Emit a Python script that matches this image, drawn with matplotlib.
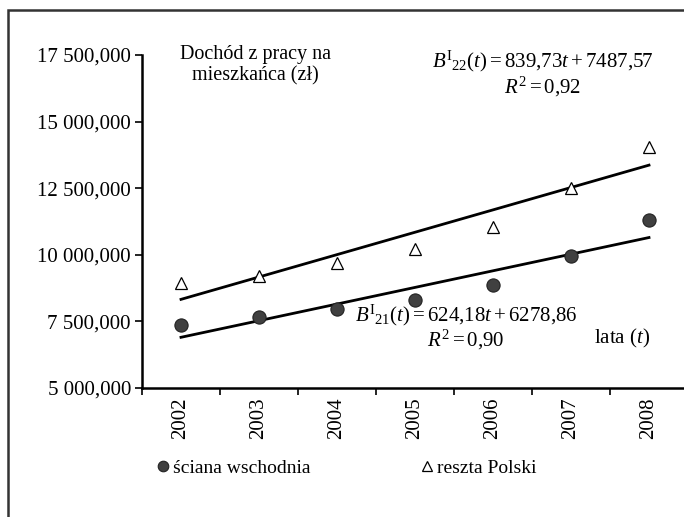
import matplotlib
matplotlib.use("Agg")
import matplotlib.pyplot as plt
import numpy as np
from matplotlib.patches import Rectangle

plt.rcParams['font.family'] = ['Liberation Serif', 'DejaVu Serif']
plt.rcParams['mathtext.fontset'] = 'custom'
plt.rcParams['mathtext.rm'] = 'Liberation Serif'
plt.rcParams['mathtext.it'] = 'Liberation Serif:italic'

# data
years = ['2002', '2003', '2004', '2005', '2006', '2007', '2008']
sciana = [7350, 7660, 7970, 8310, 8870, 9970, 11290]
reszta = [8960, 9210, 9690, 10210, 11040, 12520, 14060]

# trend equations printed on the chart: y = a*t + b, t = 1..7
trend_sciana = (624.18, 6278.86)
trend_reszta = (839.73, 7487.57)

yticks = [5000, 7500, 10000, 12500, 15000, 17500]
ytick_labels = ['5 000,000', '7 500,000', '10 000,000', '12 500,000', '15 000,000', '17 500,000']

fig = plt.figure(figsize=(6.84, 5.17), dpi=100)
ax = fig.add_axes([142/684, 1-388/517, 546/684, 333/517])

x = np.arange(len(years))
t = x + 1

# trend lines
ax.plot(x, trend_reszta[0]*t + trend_reszta[1], color='black', lw=2, zorder=2)
ax.plot(x, trend_sciana[0]*t + trend_sciana[1], color='black', lw=2, zorder=2)

ax.plot(x, sciana, 'o', ms=9.5, mfc='#404040', mec='#222222', mew=0.8, zorder=3,
        label='ściana wschodnia')
ax.plot(x, reszta, '^', ms=8.5, mfc='white', mec='black', mew=0.9, zorder=3,
        label='reszta Polski')

ax.set_xlim(-0.5, 6.5)
ax.set_ylim(5000, 17500)
ax.set_yticks(yticks)
ax.set_yticklabels(ytick_labels, fontsize=15)
ax.set_xticks(x)
ax.set_xticklabels(years, rotation=90, fontsize=15)
ax.set_xticks(np.arange(-0.5, 7, 1), minor=True)
ax.tick_params(axis='x', which='major', length=0, pad=7)
ax.tick_params(axis='x', which='minor', length=5, width=1.2, direction='out')
ax.tick_params(axis='y', length=5, width=1.2, direction='out', pad=3)

for s in ['top', 'right']:
    ax.spines[s].set_visible(False)
for s in ['left', 'bottom']:
    ax.spines[s].set_linewidth(1.8)
ax.spines['bottom'].set_clip_on(False)

# annotations
fig.text(255/684, 1-65/517, 'Dochód z pracy na\nmieszkańca (zł)', ha='center', va='center',
         fontsize=14.5, linespacing=1.15)
fig.text(543/684, 1-74/517,
         r'$B^{\mathrm{I}}{}_{22}(t) = 839{,}73t + 7487{,}57$' + '\n' + r'$R^{2} = 0{,}92$',
         ha='center', va='center', multialignment='center', fontsize=15, linespacing=1.05)
fig.text(466/684, 1-327/517,
         r'$B^{\mathrm{I}}{}_{21}(t) = 624{,}18t + 6278{,}86$' + '\n' + r'$R^{2} = 0{,}90$',
         ha='center', va='center', multialignment='center', fontsize=15, linespacing=1.0)
fig.text(622/684, 1-338/517, r'lata ($t$)', ha='center', va='center', fontsize=15)

fig.legend(loc='center left', bbox_to_anchor=(134/684, 1-468/517), ncol=2, frameon=False,
           fontsize=14, handletextpad=-0.1, columnspacing=5.4, markerscale=0.8,
           handlelength=1.2)

# outer frame (right/bottom edges lie outside the picture)
fig.patches.append(Rectangle((8/684, -0.1), 1.2, 1.1 - 10/517, transform=fig.transFigure,
                             fill=False, edgecolor='#333333', lw=1.8, clip_on=False))

fig.savefig('out.png', dpi=100)
